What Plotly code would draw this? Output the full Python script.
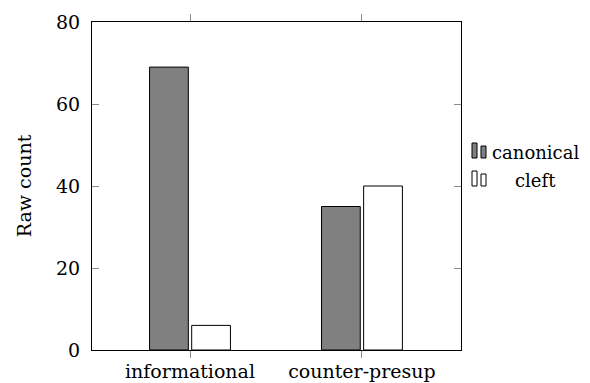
import plotly.graph_objects as go

categories = ["informational", "counter-presup"]
canonical = [69, 35]
cleft = [6, 40]
y_ticks = [0, 20, 40, 60, 80]
series_names = ["canonical", "cleft"]

# the page body has an 8px margin, so the figure starts at (8, 8)
OFF = 8
W, H = 590 - OFF, 383 - OFF
ML, MT = 92 - OFF, 22 - OFF
PW, PH = 369, 328
MR, MB = W - ML - PW, H - MT - PH
FONT = "DejaVu Serif"

def px(x):
    return (x - OFF - ML) / PW

def py(y):
    return (MT + PH - (y - OFF)) / PH

fig = go.Figure()
fig.add_trace(go.Bar(x=categories, y=canonical, name=series_names[0],
                     marker=dict(color="#808080", line=dict(color="black", width=1)),
                     showlegend=False))
fig.add_trace(go.Bar(x=categories, y=cleft, name=series_names[1],
                     marker=dict(color="white", line=dict(color="black", width=1)),
                     showlegend=False))

fig.update_layout(
    width=W, height=H,
    margin=dict(l=ML, r=MR, t=MT, b=MB, pad=0, autoexpand=False),
    plot_bgcolor="white", paper_bgcolor="white",
    barmode="group", bargap=0.51, bargroupgap=0.08,
    font=dict(family=FONT, size=19, color="black"),
    xaxis=dict(type="category", range=[-0.57, 1.576], showline=True, linecolor="black",
               linewidth=1, mirror="ticks", ticks="outside", ticklen=7, tickcolor="#8c8c8c",
               tickwidth=1, showgrid=False, zeroline=False, tickfont=dict(size=19),
               ticklabelstandoff=-3, automargin=False),
    yaxis=dict(range=[0, 80], tickvals=y_ticks, showline=True, linecolor="black",
               linewidth=1, mirror="ticks", ticks="inside", ticklen=7, tickcolor="#8c8c8c",
               tickwidth=1, showgrid=False, zeroline=False, tickfont=dict(size=19),
               ticklabelstandoff=7, automargin=False,
               title=dict(text="Raw count", font=dict(size=19), standoff=19)),
)

# custom legend (pgfplots-like)
legend_rows = [(series_names[0], "#808080", 152, 490, "left"),
               (series_names[1], "white", 180, 535, "center")]
for name, col, yc, tx, anchor in legend_rows:
    for (x0, x1, top) in [(472, 477, yc - 9), (481, 486, yc - 6)]:
        fig.add_shape(type="rect", xref="paper", yref="paper",
                      x0=px(x0), x1=px(x1), y0=py(yc + 6), y1=py(top),
                      line=dict(color="black", width=1), fillcolor=col)
    fig.add_annotation(text=name, xref="paper", yref="paper", x=px(tx), y=py(yc),
                       xanchor=anchor, yanchor="middle", showarrow=False,
                       font=dict(family=FONT, size=18))

fig.write_html("out.html")
